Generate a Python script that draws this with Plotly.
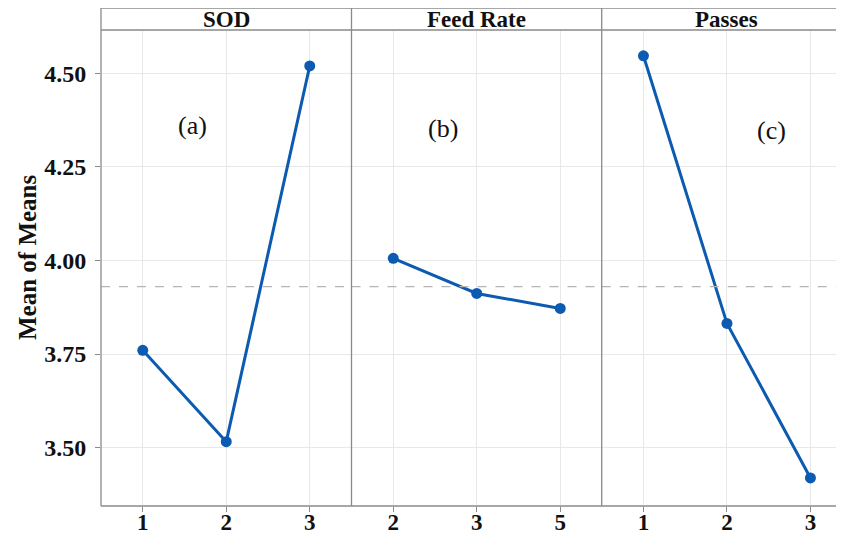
import plotly.graph_objects as go

# ---- data ----
factors = ["SOD", "Feed Rate", "Passes"]
sod_levels = ["1", "2", "3"]
sod_means = [3.760, 3.516, 4.520]
feed_levels = ["2", "3", "5"]
feed_means = [4.006, 3.912, 3.872]
passes_levels = ["1", "2", "3"]
passes_means = [4.547, 3.832, 3.419]
grand_mean = 3.930
y_ticks = [3.50, 3.75, 4.00, 4.25, 4.50]
panel_tags = ["(a)", "(b)", "(c)"]

# page body has an 8px margin: work in window pixels and shift
OFF = 8
WIN_W, WIN_H = 844, 536
W, H = WIN_W - OFF, WIN_H - OFF
PLOT_L, PLOT_T, PLOT_B, PLOT_R = 101, 30, 506, 844  # window pixels
L = PLOT_L - OFF
T = PLOT_T - OFF
B = H - (PLOT_B - OFF)
R = W - (PLOT_R - OFF)
pw = W - L - R
ph = H - T - B

def px(xwin):
    return (xwin - PLOT_L) / pw

def py(ywin):
    return (PLOT_B - ywin) / ph

LINE = "#0D5BB0"
FRAME = "#8a8a8a"
GRID = "#e8e8e8"
FONT = "Liberation Serif"

bounds = [101, 351.5, 601.7, 844]
unit = 83.5

fig = go.Figure()
series = [(sod_levels, sod_means), (feed_levels, feed_means), (passes_levels, passes_means)]
for i, (lv, mv) in enumerate(series):
    sfx = "" if i == 0 else str(i + 1)
    fig.add_trace(go.Scatter(
        x=lv, y=mv, mode="lines+markers",
        line=dict(color=LINE, width=3),
        marker=dict(color=LINE, size=11),
        xaxis="x" + sfx, yaxis="y" + sfx, showlegend=False,
    ))
    x0, x1 = bounds[i], bounds[i + 1]
    span = (x1 - x0) / unit
    xa = dict(
        type="category", domain=[px(x0), px(x1)],
        range=[-0.5, -0.5 + span], automargin=False,
        showgrid=True, gridcolor=GRID, gridwidth=1,
        ticks="outside", ticklen=5, tickcolor=FRAME, ticklabelstandoff=-10,
        tickfont=dict(family=FONT, size=23, color="#111111", weight="bold"),
        showline=False, zeroline=False, fixedrange=True,
        anchor="y" + sfx,
    )
    ya = dict(
        range=[3.344, 4.616], domain=[0, 1], automargin=False,
        tickvals=y_ticks, ticktext=[f"{v:.2f}" for v in y_ticks],
        showgrid=True, gridcolor=GRID, gridwidth=1,
        zeroline=False, showline=False,
        anchor="x" + sfx,
    )
    if i == 0:
        ya.update(ticks="outside", ticklen=5, tickcolor=FRAME, ticklabelstandoff=4,
                  tickfont=dict(family=FONT, size=24, color="#111111", weight="bold"))
    else:
        ya.update(showticklabels=False, ticks="")
    fig.update_layout(**{"xaxis" + sfx: xa, "yaxis" + sfx: ya})

    # dashed grand mean line
    fig.add_shape(type="line", xref="paper", yref="y" + sfx,
                  x0=px(x0), x1=px(x1), y0=grand_mean, y1=grand_mean,
                  line=dict(color="#b5b5b5", width=1.3, dash="dash"), layer="above")

    # strip title
    cx = (x0 + x1) / 2 if i < 2 else x0 + 1.5 * unit
    fig.add_annotation(text=factors[i], xref="paper", yref="paper",
                       x=px(cx), y=py(19.5), xanchor="center", yanchor="middle",
                       showarrow=False,
                       font=dict(family=FONT, size=23, color="#111111", weight="bold"))

# frame lines
strip_top = py(8)
for yy in (strip_top, 1, 0):
    fig.add_shape(type="line", xref="paper", yref="paper", x0=0, x1=1, y0=yy, y1=yy,
                  line=dict(color=FRAME, width=1.3))
for xb in bounds[:3]:
    fig.add_shape(type="line", xref="paper", yref="paper", x0=px(xb), x1=px(xb),
                  y0=0, y1=strip_top, line=dict(color=FRAME, width=1.3))

# panel tags
tag_pos = [(192, 126), (443, 128), (771, 130)]
for tag, (tx, ty) in zip(panel_tags, tag_pos):
    fig.add_annotation(text=tag, xref="paper", yref="paper", x=px(tx), y=py(ty),
                       xanchor="center", yanchor="middle",
                       showarrow=False, font=dict(family=FONT, size=26, color="#111111"))

# y-axis title
fig.add_annotation(text="Mean of Means", xref="paper", yref="paper",
                   x=px(27), y=py(257), xanchor="center", yanchor="middle",
                   textangle=-90, showarrow=False,
                   font=dict(family=FONT, size=25, color="#111111", weight="bold"))

fig.update_layout(
    width=W, height=H,
    margin=dict(l=L, r=R, t=T, b=B, pad=0, autoexpand=False),
    plot_bgcolor="white", paper_bgcolor="white",
    showlegend=False,
)

fig.write_html("out.html")
